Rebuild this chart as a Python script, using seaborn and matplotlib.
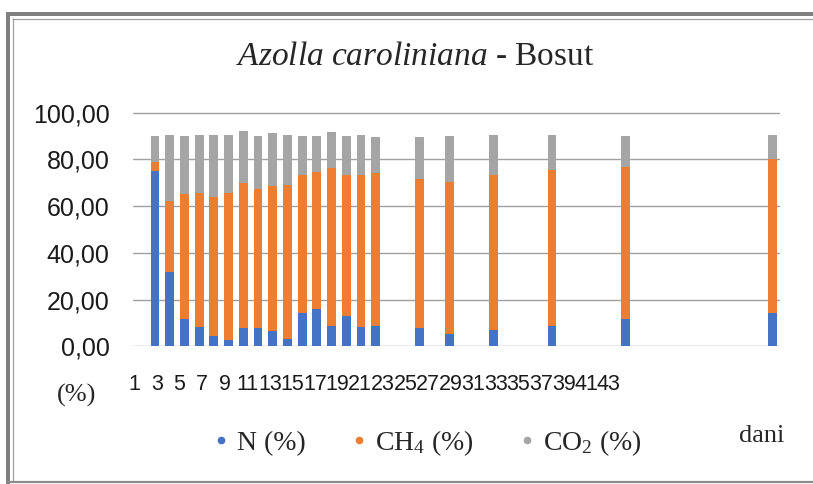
import matplotlib
matplotlib.use("Agg")
import matplotlib.pyplot as plt
from matplotlib.lines import Line2D
import numpy as np
import pandas as pd
import seaborn as sns

# ---------------- data ----------------
days = [1, 2, 3, 4, 5, 6, 7, 8, 9, 10, 11, 12, 13, 14, 15, 16, 19, 21, 24, 28, 33, 43]
n_pct = [75.0, 31.8, 11.7, 8.3, 4.3, 2.6, 7.7, 7.7, 6.6, 3.1, 14.1, 15.8, 8.8, 12.8,
         8.3, 8.8, 7.7, 5.4, 7.1, 8.8, 11.7, 14.1]
ch4_pct = [4.1, 30.6, 53.5, 57.5, 59.8, 63.2, 62.1, 59.8, 62.1, 66.1, 59.1, 58.7, 67.4,
           60.4, 64.9, 65.2, 63.8, 65.0, 66.1, 66.7, 65.0, 66.0]
co2_pct = [10.9, 28.1, 24.8, 24.7, 26.4, 24.7, 22.4, 22.5, 22.4, 21.3, 16.8, 15.5, 15.4,
           16.8, 17.3, 15.4, 17.9, 19.5, 17.3, 15.0, 13.3, 10.4]
day_order = list(range(0, 44))
tick_days = list(range(1, 44, 2))
tick_labels = [str(d) for d in tick_days]
y_ticks = [0, 20, 40, 60, 80, 100]
y_tick_labels = ["0,00", "20,00", "40,00", "60,00", "80,00", "100,00"]
series_labels = ["N (%)", "CH$_4$ (%)", "CO$_2$ (%)"]
colors = ["#4472C4", "#ED7D31", "#A5A5A5"]

df = pd.DataFrame({"day": days, "N": n_pct, "CH4": ch4_pct, "CO2": co2_pct})
df["top_ch4"] = df["N"] + df["CH4"]
df["total"] = df["top_ch4"] + df["CO2"]

# ---------------- style ----------------
sns.set_style("white")
plt.rcParams["font.family"] = ["Liberation Sans", "DejaVu Sans"]
plt.rcParams["mathtext.fontset"] = "custom"
plt.rcParams["mathtext.rm"] = "Liberation Serif"
plt.rcParams["mathtext.it"] = "Liberation Serif:italic"
plt.rcParams["mathtext.bf"] = "Liberation Serif:bold"

W, H = 813, 484
fig = plt.figure(figsize=(W / 100, H / 100), dpi=100)
fig.patch.set_facecolor("white")

x0, x1 = 133, 780
y0, y100 = 346.3, 112.7
ytop = 100.5
ax = fig.add_axes([x0 / W, (H - y0) / H, (x1 - x0) / W, (y0 - y100) * (ytop / 100) / H])

bw = 0.6
sns.barplot(data=df, x="day", y="total", order=day_order, color=colors[2],
            saturation=1, width=bw, errorbar=None, linewidth=0, ax=ax)
sns.barplot(data=df, x="day", y="top_ch4", order=day_order, color=colors[1],
            saturation=1, width=bw, errorbar=None, linewidth=0, ax=ax)
sns.barplot(data=df, x="day", y="N", order=day_order, color=colors[0],
            saturation=1, width=bw, errorbar=None, linewidth=0, ax=ax)

ax.set_xlim(-0.5, len(day_order) - 0.5)
ax.set_ylim(0, ytop)
ax.set_yticks(y_ticks)
ax.set_yticklabels(y_tick_labels)
ax.tick_params(axis="y", length=0, pad=17, labelsize=18, labelcolor="#1a1a1a")
ax.set_xticks([])
ax.set_xlabel("")
ax.set_ylabel("")
ax.yaxis.grid(True, color="#A0A0A0", linewidth=1.0)
ax.set_axisbelow(True)
for s in ax.spines.values():
    s.set_visible(False)

# day labels (as placed in the original picture)
ax2 = ax.twiny()
lab_x_first, lab_step = 134.3, 11.3
ax2.set_xlim(1 + (x0 - lab_x_first) / lab_step, 1 + (x1 - lab_x_first) / lab_step)
ax2.xaxis.set_ticks_position("bottom")
ax2.set_xticks(tick_days)
ax2.set_xticklabels(tick_labels)
ax2.tick_params(axis="x", length=0, pad=20, labelsize=15.5, labelcolor="#1a1a1a")
for s in ax2.spines.values():
    s.set_visible(False)

# title
fig.text(415 / W, 1 - 57 / H, r"$\it{Azolla\ caroliniana}$ - Bosut",
         ha="center", va="center", fontsize=24, family="Liberation Serif")

# axis captions
fig.text(77 / W, 1 - 395 / H, "(%)", ha="center", va="center", fontsize=19,
         family="Liberation Serif")
fig.text(762 / W, 1 - 436 / H, "dani", ha="center", va="center", fontsize=19,
         family="Liberation Serif")

# legend
handles = [Line2D([], [], linestyle="none", marker="o", markersize=4.5,
                  markerfacecolor=c, markeredgecolor=c) for c in colors]
fig.legend(handles, series_labels, loc="center", bbox_to_anchor=(427 / W, 1 - 443 / H),
           ncol=3, frameon=False, handlelength=0.6, handletextpad=0.27,
           columnspacing=1.64, prop={"family": "Liberation Serif", "size": 20})

# chart frame
def fline(xs, ys, lw, color):
    fig.add_artist(Line2D([x / W for x in xs], [1 - y / H for y in ys],
                          transform=fig.transFigure, lw=lw, color=color,
                          solid_capstyle="butt"))

fline([8, 8], [12, 484], 4 * 0.72, "#808080")
fline([6, W], [14, 14], 4 * 0.72, "#808080")
fline([12.5, 12.5], [18, 482], 0.9, "#A0A0A0")
fline([12, W], [18.5, 18.5], 0.9, "#A0A0A0")
fline([6, W], [482, 482], 1.6, "#8C8C8C")

fig.savefig("out.png", dpi=100, facecolor="white")
